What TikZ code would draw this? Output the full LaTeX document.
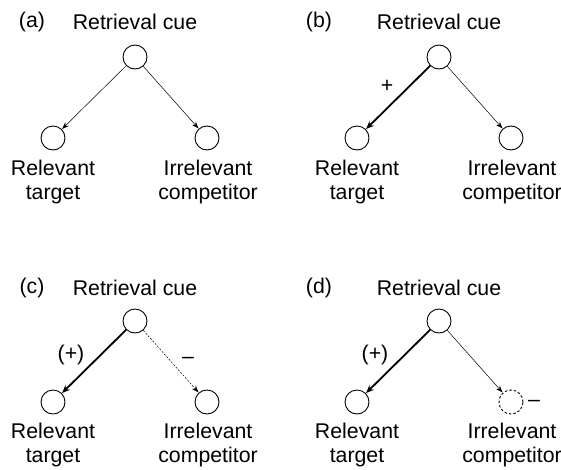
\documentclass[tikz,border=0pt]{standalone}
\usepackage{fontspec}
\setmainfont{Liberation Sans}
\usetikzlibrary{arrows.meta}

\begin{document}
\begin{tikzpicture}[x=1pt,y=-1pt,
  every node/.style={font=\fontsize{21.3}{24.5}\selectfont},
  unit/.style={draw,circle,minimum size=24pt,inner sep=0pt,line width=0.9pt},
  gone/.style={unit,dashed,dash pattern=on 2.5pt off 2pt},
  link/.style={-{Stealth[length=7pt,width=5pt]},line width=0.5pt,shorten >=0.3pt},
  strong/.style={link,line width=1.8pt,-{Stealth[length=8pt,width=6.5pt]}},
  weak/.style={link,dash pattern=on 2pt off 1.5pt}]

\useasboundingbox (0,0) rectangle (561,469);

% (a)
\begin{scope}[shift={(0,0)}]
\node [unit] (cueA) at (135,57) {};
\node [unit] (tgtA) at (53,138) {};
\node [unit] (compA) at (207,138) {};
\node (tagA) at (32,22) {(a)};
\node (cueTxtA) at (135,22) {Retrieval cue};
\node [align=center] (tgtTxtA) at (53,182) {Relevant\\target};
\node [align=center] (compTxtA) at (208,182) {Irrelevant\\competitor};
\draw[link] (cueA) -- (tgtA);
\draw[link] (cueA) -- (compA);
\end{scope}

% (b)
\begin{scope}[shift={(304,0)}]
\node [unit] (cueB) at (135,57) {};
\node [unit] (tgtB) at (53,138) {};
\node [unit] (compB) at (207,138) {};
\node (tagB) at (15,22) {(b)};
\node (cueTxtB) at (135,22) {Retrieval cue};
\node [align=center] (tgtTxtB) at (53,182) {Relevant\\target};
\node [align=center] (compTxtB) at (208,182) {Irrelevant\\competitor};
\draw[strong] (cueB) -- (tgtB);
\draw[link] (cueB) -- (compB);
\node (plusB) at (83,86) {+};
\end{scope}

% (c)
\begin{scope}[shift={(0,264)}]
\node [unit] (cueC) at (135,57) {};
\node [unit] (tgtC) at (53,138) {};
\node [unit] (compC) at (207,138) {};
\node (tagC) at (32,24) {(c)};
\node (cueTxtC) at (135,24) {Retrieval cue};
\node [align=center] (tgtTxtC) at (53,181) {Relevant\\target};
\node [align=center] (compTxtC) at (208,181) {Irrelevant\\competitor};
\draw[strong] (cueC) -- (tgtC);
\draw[weak] (cueC) -- (compC);
\node (plusC) at (71,91) {(+)};
\node (minusC) at (188,96) {--};
\end{scope}

% (d)
\begin{scope}[shift={(304,264)}]
\node [unit] (cueD) at (135,57) {};
\node [unit] (tgtD) at (53,138) {};
\node [gone] (compD) at (207,138) {};
\node (tagD) at (15,24) {(d)};
\node (cueTxtD) at (135,24) {Retrieval cue};
\node [align=center] (tgtTxtD) at (53,181) {Relevant\\target};
\node [align=center] (compTxtD) at (208,181) {Irrelevant\\competitor};
\draw[strong] (cueD) -- (tgtD);
\draw[link] (cueD) -- (compD);
\node (plusD) at (71,91) {(+)};
\node (minusD) at (230,139) {--};
\end{scope}

\end{tikzpicture}
\end{document}
